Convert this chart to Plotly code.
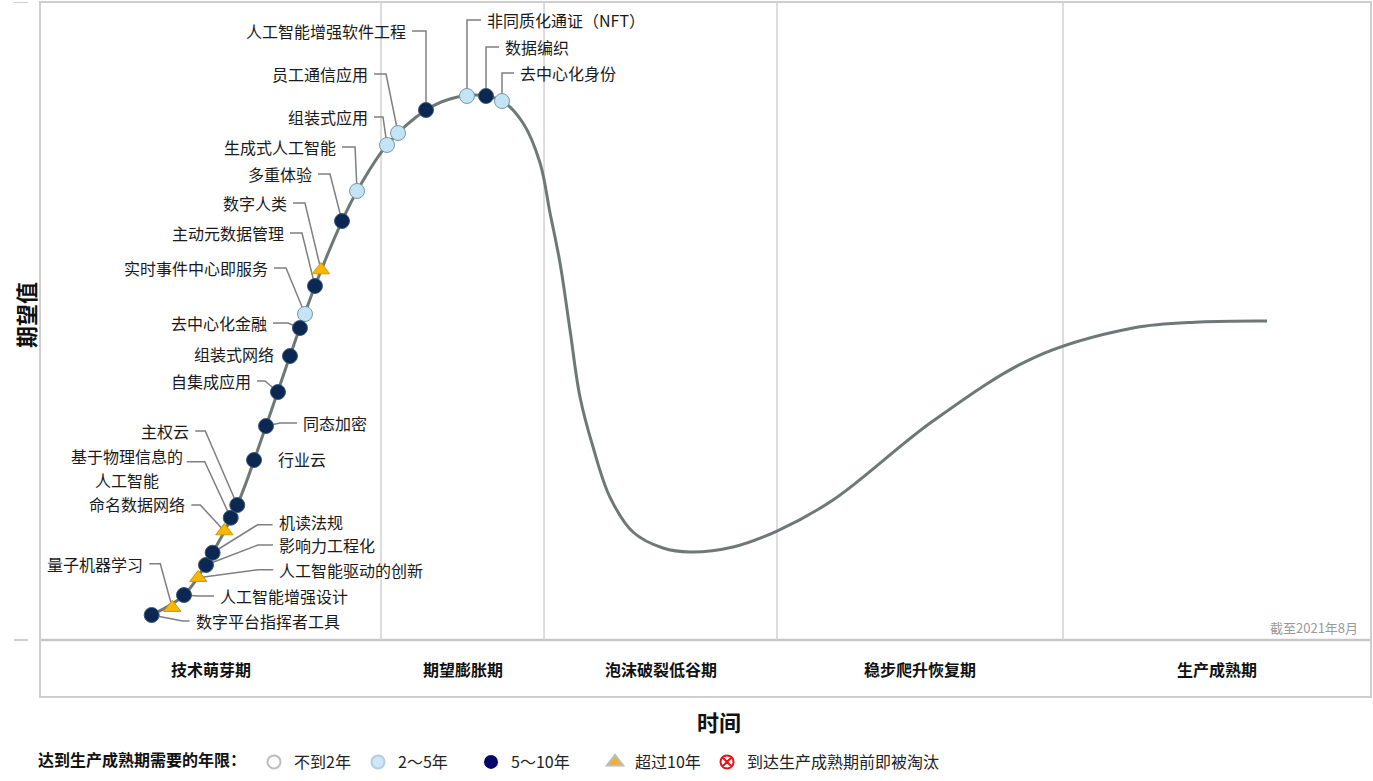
import plotly.graph_objects as go

# ---------------- data ----------------
# Hype-cycle curve control points (time, expectation)
CURVE_X = [8.34, 10.82, 12.97, 14.82, 16.98, 18.78, 20.66, 22.69, 23.82, 26.07, 29.00, 30.80,
           32.76, 34.71, 36.29, 37.57, 38.32, 39.07, 39.82, 40.57, 41.55, 42.82, 44.55, 46.81,
           48.84, 52.07, 55.37, 59.58, 67.09, 74.61, 82.12, 87.15, 92.19]
CURVE_Y = [3.92, 7.05, 13.68, 21.16, 33.54, 44.51, 55.49, 65.67, 70.38, 77.59, 83.07, 84.80,
           85.42, 84.48, 81.03, 74.76, 66.93, 59.09, 48.59, 38.09, 30.25, 22.41, 16.93, 14.42,
           13.79, 14.58, 17.08, 21.94, 34.33, 44.20, 48.90, 49.84, 50.00]

TECH_NAMES = ["数字平台指挥者工具", "量子机器学习", "人工智能增强设计", "人工智能驱动的创新",
              "影响力工程化", "机读法规", "命名数据网络", "基于物理信息的人工智能", "主权云",
              "行业云", "同态加密", "自集成应用", "组装式网络", "去中心化金融", "实时事件中心即服务",
              "主动元数据管理", "数字人类", "多重体验", "生成式人工智能", "组装式应用",
              "员工通信应用", "人工智能增强软件工程", "非同质化通证（NFT）", "数据编织", "去中心化身份"]
TECH_X = [8.39, 9.94, 10.82, 11.89, 12.47, 12.97, 13.85, 14.33, 14.82, 16.08, 16.98, 17.88,
          18.78, 19.53, 19.91, 20.66, 21.11, 22.69, 23.82, 26.07, 26.90, 29.00, 32.08, 33.51, 34.71]
TECH_Y = [3.92, 5.06, 7.05, 9.76, 11.76, 13.68, 17.08, 19.17, 21.16, 28.21, 33.54, 38.87,
          44.51, 48.90, 51.10, 55.49, 57.99, 65.67, 70.38, 77.59, 79.47, 83.07, 85.27, 85.27, 84.48]
TECH_CLASS = ["5～10年", "超过10年", "5～10年", "超过10年", "5～10年", "5～10年", "超过10年",
              "5～10年", "5～10年", "5～10年", "5～10年", "5～10年", "5～10年", "5～10年",
              "2～5年", "5～10年", "超过10年", "5～10年", "2～5年", "2～5年", "2～5年",
              "5～10年", "2～5年", "5～10年", "2～5年"]

PHASE_NAMES = ["技术萌芽期", "期望膨胀期", "泡沫破裂低谷期", "稳步爬升恢复期", "生产成熟期"]
PHASE_BOUNDS = [0, 25.62, 37.87, 55.37, 76.86, 100]

LEGEND_CLASSES = ["不到2年", "2～5年", "5～10年", "超过10年", "到达生产成熟期前即被淘汰"]

# ---------------- layout helpers ----------------
W, H = 1373, 781
M_L, M_R, M_T, M_B = 40, 2, 2, 84
Y_MIN, Y_MAX = -8.93, 100.0
X_MIN, X_MAX = 0.0, 100.0
PLOT_W = W - M_L - M_R
PLOT_H = H - M_T - M_B
PX_X = (X_MAX - X_MIN) / PLOT_W
PX_Y = (Y_MAX - Y_MIN) / PLOT_H

# label placement in pixels relative to its point:
# (text lines, text dx, text dy of first line, elbow dx, side, stub dy)
LABEL_LAYOUT = {
    "数字平台指挥者工具": (["数字平台指挥者工具"], 42, 6, 31, "R", None),
    "量子机器学习": (["量子机器学习"], -27, -44, -12, "L", None),
    "人工智能增强设计": (["人工智能增强设计"], 34, 1, 14, "R", None),
    "人工智能驱动的创新": (["人工智能驱动的创新"], 79, -8, 60, "R", None),
    "影响力工程化": (["影响力工程化"], 71, -20, 52, "R", None),
    "机读法规": (["机读法规"], 64, -31, 45, "R", -28),
    "命名数据网络": (["命名数据网络"], -37, -27, -24, "L", -26),
    "基于物理信息的人工智能": (["基于物理信息的", "人工智能"], -48, -62, -26, "L", -56),
    "主权云": (["主权云"], -46, -74, -32, "L", None),
    "行业云": (["行业云"], 22, -1, None, "R", None),
    "同态加密": (["同态加密"], 35, -3, 14, "R", None),
    "自集成应用": (["自集成应用"], -25, -11, -13, "L", None),
    "组装式网络": (["组装式网络"], -14, -2, None, "L", None),
    "去中心化金融": (["去中心化金融"], -31, -5, -12, "L", None),
    "实时事件中心即服务": (["实时事件中心即服务"], -35, -46, -19, "L", None),
    "主动元数据管理": (["主动元数据管理"], -29, -53, -13, "L", None),
    "数字人类": (["数字人类"], -32, -67, -16, "L", None),
    "多重体验": (["多重体验"], -28, -47, -12, "L", None),
    "生成式人工智能": (["生成式人工智能"], -19, -44, -2, "L", None),
    "组装式应用": (["组装式应用"], -17, -28, -4, "L", None),
    "员工通信应用": (["员工通信应用"], -28, -59, -12, "L", None),
    "人工智能增强软件工程": (["人工智能增强软件工程"], -18, -79, 0, "L", None),
    "非同质化通证（NFT）": (["非同质化通证（NFT）"], 18, -76, 0, "R", None),
    "数据编织": (["数据编织"], 17, -49, 0, "R", None),
    "去中心化身份": (["去中心化身份"], 16, -28, 0, "R", None),
}
LINE_STEP = 24  # px between lines of a two-line label

FONT = "Noto Sans CJK SC, Noto Sans, sans-serif"
CURVE_COLOR = "#6e7977"
LEADER_COLOR = "#7f7f7f"
GRID_COLOR = "#d2d2d2"

CHART_STYLE = {
    "2～5年": dict(symbol="circle", color="#c2e4f4", line=dict(color="#7898a6", width=1), size=15),
    "5～10年": dict(symbol="circle", color="#0b2853", line=dict(color="#3f5874", width=1), size=15),
    "超过10年": dict(symbol="triangle-up", color="#f6b700", line=dict(color="#d49a00", width=1), size=15),
}
LEGEND_STYLE = {
    "不到2年": dict(symbol="circle", color="#ffffff", line=dict(color="#bdbdbd", width=2), size=13, w=59),
    "2～5年": dict(symbol="circle", color="#cde9f8", line=dict(color="#b0cfe0", width=2), size=13, w=68),
    "5～10年": dict(symbol="circle", color="#05086a", line=dict(color="#05086a", width=0), size=14, w=79),
    "超过10年": dict(symbol="triangle-up", color="#f4b02c", line=dict(color="#bcbcbc", width=2), size=14, w=67),
    "到达生产成熟期前即被淘汰": dict(symbol="circle-x", color="#ffffff", line=dict(color="#e31414", width=2), size=13, w=200),
}

fig = go.Figure()

# hype curve
fig.add_trace(go.Scatter(x=CURVE_X, y=CURVE_Y, mode="lines",
                         line=dict(color=CURVE_COLOR, width=3, shape="spline", smoothing=1.0),
                         hoverinfo="skip", showlegend=False))

# leader lines and labels
lx, ly = [], []
annotations = []
for name, x, y in zip(TECH_NAMES, TECH_X, TECH_Y):
    lines, tdx, tdy, edx, side, sdy = LABEL_LAYOUT[name]
    if sdy is None:
        sdy = tdy
    if edx is not None:
        stub_end = tdx + (4 if side == "L" else -4)
        lx += [x, x + edx * PX_X, x + stub_end * PX_X, None]
        ly += [y, y - sdy * PX_Y, y - sdy * PX_Y, None]
    for k, line in enumerate(lines):
        tx = x + tdx * PX_X
        anchor = "right" if side == "L" else "left"
        if len(lines) > 1:
            # centre the lines of a multi-line label on the widest one
            widest = max(len(s) for s in lines)
            tx = x + (tdx - widest * 16 / 2) * PX_X
            anchor = "center"
        ty = y - (tdy + k * LINE_STEP) * PX_Y
        annotations.append(dict(x=tx, y=ty, xref="x", yref="y", text=line, showarrow=False,
                                xanchor=anchor, yanchor="middle",
                                font=dict(family=FONT, size=16, color="#1a1a1a")))

fig.add_trace(go.Scatter(x=lx, y=ly, mode="lines", line=dict(color=LEADER_COLOR, width=1.5),
                         hoverinfo="skip", showlegend=False))

# technology points by class
for cls, st in CHART_STYLE.items():
    xs = [x for x, c in zip(TECH_X, TECH_CLASS) if c == cls]
    ys = [y for y, c in zip(TECH_Y, TECH_CLASS) if c == cls]
    names = [n for n, c in zip(TECH_NAMES, TECH_CLASS) if c == cls]
    fig.add_trace(go.Scatter(x=xs, y=ys, mode="markers", text=names, name=cls,
                             marker=dict(symbol=st["symbol"], color=st["color"], size=st["size"],
                                         line=st["line"]),
                             hovertemplate="%{text}<extra>" + cls + "</extra>", showlegend=False))

# legend-only traces
for cls in LEGEND_CLASSES:
    st = LEGEND_STYLE[cls]
    fig.add_trace(go.Scatter(x=[None], y=[None], mode="markers", name=cls, legendwidth=st["w"],
                             marker=dict(symbol=st["symbol"], color=st["color"], size=st["size"],
                                         line=st["line"]), showlegend=True))

shapes = []
# phase dividers
for b in PHASE_BOUNDS[1:-1]:
    shapes.append(dict(type="line", xref="x", yref="y", x0=b, x1=b, y0=0, y1=Y_MAX,
                       line=dict(color=GRID_COLOR, width=1.5), layer="below"))
# band top line
shapes.append(dict(type="line", xref="paper", yref="y", x0=0, x1=1, y0=0, y1=0,
                   line=dict(color="#c6c6c6", width=2.5), layer="below"))
# outer frame
shapes.append(dict(type="rect", xref="paper", yref="paper", x0=0, x1=1, y0=0, y1=1,
                   line=dict(color="#cfcfcf", width=2), layer="below"))
# small ticks on the left
for yv in [Y_MAX, 0]:
    shapes.append(dict(type="line", xref="paper", yref="y", x0=-26 / PLOT_W,
                       x1=-12 / PLOT_W, y0=yv, y1=yv,
                       line=dict(color="#cfcfcf", width=2)))

# phase names
for i, pname in enumerate(PHASE_NAMES):
    cx = (PHASE_BOUNDS[i] + PHASE_BOUNDS[i + 1]) / 2
    annotations.append(dict(x=cx, y=Y_MIN / 2, xref="x", yref="y", text=pname, showarrow=False,
                            font=dict(family=FONT, size=16, color="#111111", weight="bold")))

# as-of note
annotations.append(dict(x=0.9917, y=2.0, xref="paper", yref="y", text="截至2021年8月",
                        showarrow=False, xanchor="right", yanchor="middle",
                        font=dict(family=FONT, size=13, color="#9a9a9a")))
# axis titles
annotations.append(dict(x=-15 / PLOT_W, y=(H - M_B - 315) / PLOT_H,
                        xref="paper", yref="paper", text="期望值", textangle=-90, showarrow=False,
                        xanchor="center", yanchor="middle",
                        font=dict(family=FONT, size=22, color="#111111", weight="bold")))
annotations.append(dict(x=(719 - M_L) / PLOT_W, y=-(721 - (H - M_B)) / PLOT_H,
                        xref="paper", yref="paper", text="时间", showarrow=False,
                        xanchor="center", yanchor="middle",
                        font=dict(family=FONT, size=22, color="#111111", weight="bold")))

fig.update_layout(
    width=W, height=H,
    margin=dict(l=M_L, r=M_R, t=M_T, b=M_B, pad=0),
    paper_bgcolor="white", plot_bgcolor="white",
    xaxis=dict(range=[X_MIN, X_MAX], visible=False, fixedrange=True),
    yaxis=dict(range=[Y_MIN, Y_MAX], visible=False, fixedrange=True),
    shapes=shapes, annotations=annotations,
    showlegend=True,
    legend=dict(orientation="h", x=-4 / PLOT_W, xanchor="left", y=-(762 - (H - M_B)) / PLOT_H,
                yanchor="middle", bgcolor="rgba(0,0,0,0)",
                title=dict(text="达到生产成熟期需要的年限：", side="left",
                           font=dict(family=FONT, size=16, color="#111111", weight="bold")),
                font=dict(family=FONT, size=16, color="#222222"),
                itemsizing="trace"),
    hovermode="closest",
)

fig.write_html("out.html", config={"displayModeBar": False},
               post_script="document.body.style.margin='0';")
